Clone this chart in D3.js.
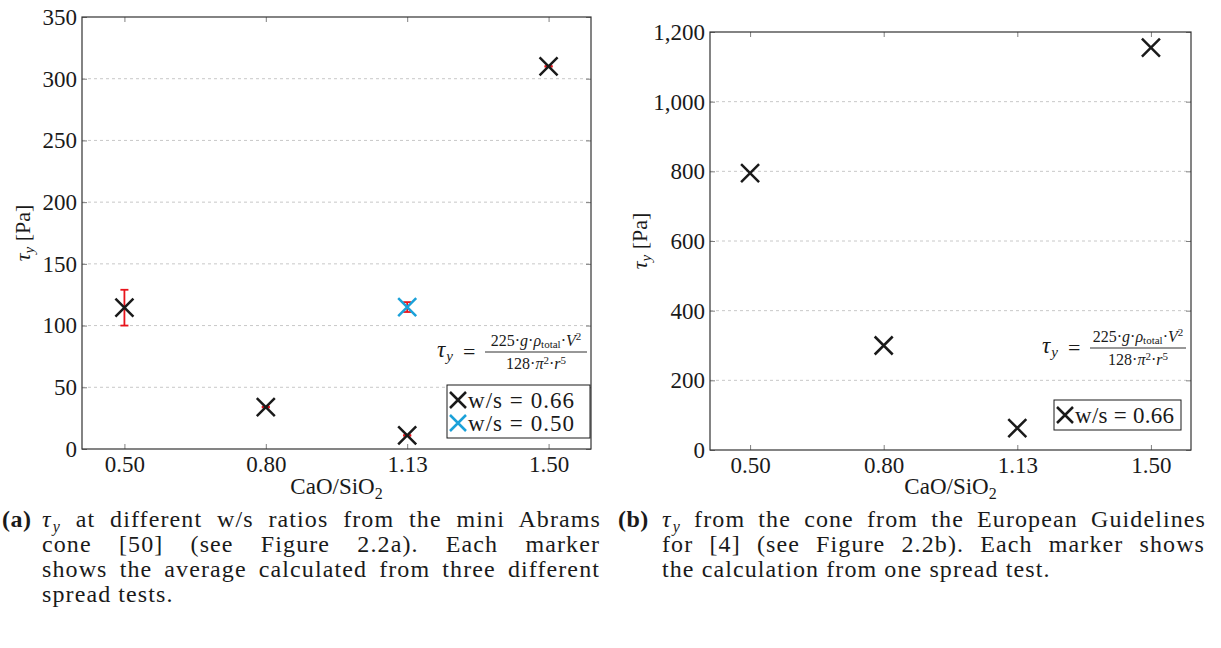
<!DOCTYPE html>
<html>
<head>
<meta charset="utf-8">
<script src="https://cdn.jsdelivr.net/npm/d3@7"></script>
<style>
  body { margin: 0; background: #fff; }
  svg { display: block; }
  text { font-family: "Liberation Serif", "Times New Roman", serif; fill: #1a1a1a; }
  .cap { font-size: 24px; letter-spacing: 1.1px; }
</style>
</head>
<body>
<svg id="fig" width="1221" height="648"></svg>
<script>
// categories on the x axis (CaO/SiO2)
const categories = ["0.50", "0.80", "1.13", "1.50"];

// (a) mini Abrams cone, tau_y in Pa
const tauA066 = [114.5, 34, 11, 310];
const errA066 = [14.5, 0.3, 0.3, 0.3];
const tauA050 = [null, null, 115, null];
const errA050 = [null, null, 4, null];
const yTicksA = [0, 50, 100, 150, 200, 250, 300, 350];

// (b) European Guidelines cone, tau_y in Pa
const tauB066 = [795, 300, 63, 1155];
const yTicksB = [0, 200, 400, 600, 800, 1000, 1200];

const legendLabels = ["w/s = 0.66", "w/s = 0.50"];

const black = "#1a1a1a", cyan = "#1ba1d9", red = "#e8141c";

const svg = d3.select("#fig");

const panels = [
  {
    box: {left: 82, right: 591, top: 17, bottom: 449},
    yTicks: yTicksA, fmt: d3.format("d"),
    series: [
      {values: tauA066, errors: errA066, color: black, label: legendLabels[0]},
      {values: tauA050, errors: errA050, color: cyan, label: legendLabels[1]}
    ],
    legend: {x: 447, y: 385, w: 143, textW: 106},
    formula: {x: 437, line: 352, x0: 485, x1: 587},
    yLabelX: 23
  },
  {
    box: {left: 710, right: 1191, top: 32, bottom: 450},
    yTicks: yTicksB, fmt: d3.format(","),
    series: [
      {values: tauB066, errors: null, color: black, label: legendLabels[0]}
    ],
    legend: {x: 1054, y: 400, w: 127, textW: 99},
    formula: {x: 1042, line: 348, x0: 1090, x1: 1186},
    yLabelX: 640
  }
];

const cross = s => `M${-s},${-s}L${s},${s}M${-s},${s}L${s},${-s}`;

panels.forEach(p => {
  const b = p.box;
  const x = d3.scalePoint().domain(categories).range([b.left, b.right]).padding(0.3);
  const y = d3.scaleLinear().domain([0, d3.max(p.yTicks)]).range([b.bottom, b.top]);
  const g = svg.append("g");

  // dashed grid
  g.append("g").selectAll("line")
    .data(p.yTicks.slice(1, -1))
    .join("line")
    .attr("x1", b.left).attr("x2", b.right)
    .attr("y1", d => y(d)).attr("y2", d => y(d))
    .attr("stroke", "#c8c8c8").attr("stroke-dasharray", "3,3");

  // axes with inward ticks
  const axL = g.append("g").attr("transform", `translate(${b.left},0)`)
    .call(d3.axisLeft(y).tickValues(p.yTicks).tickFormat(p.fmt).tickSize(-5).tickPadding(5));
  const axR = g.append("g").attr("transform", `translate(${b.right},0)`)
    .call(d3.axisRight(y).tickValues(p.yTicks).tickFormat("").tickSize(-5));
  const axB = g.append("g").attr("transform", `translate(0,${b.bottom})`)
    .call(d3.axisBottom(x).tickSize(-5).tickPadding(7));
  const axT = g.append("g").attr("transform", `translate(0,${b.top})`)
    .call(d3.axisTop(x).tickFormat("").tickSize(-5));
  [axL, axR, axB, axT].forEach(a => {
    a.select(".domain").remove();
    a.selectAll(".tick line").attr("stroke", "#808080");
    a.selectAll("text").style("font-size", "23px").attr("fill", black)
      .style("font-family", "'Liberation Serif', serif");
  });

  // frame
  g.append("rect")
    .attr("x", b.left).attr("y", b.top)
    .attr("width", b.right - b.left).attr("height", b.bottom - b.top)
    .attr("fill", "none").attr("stroke", "#333").attr("stroke-width", 1.2);

  // error bars, then markers on top
  p.series.forEach(s => {
    const pts = categories.map((c, i) => ({c, v: s.values[i], e: s.errors ? s.errors[i] : null}))
      .filter(d => d.v != null);
    const eb = g.append("g").attr("stroke", red).attr("stroke-width", 1.8);
    pts.filter(d => d.e != null).forEach(d => {
      const cx = x(d.c);
      const y0 = y(d.v - d.e), y1 = y(d.v + d.e);
      eb.append("line").attr("x1", cx).attr("x2", cx).attr("y1", y0).attr("y2", y1);
      eb.append("line").attr("x1", cx - 4).attr("x2", cx + 4).attr("y1", y0).attr("y2", y0);
      eb.append("line").attr("x1", cx - 4).attr("x2", cx + 4).attr("y1", y1).attr("y2", y1);
    });
    g.append("g").selectAll("path")
      .data(pts)
      .join("path")
      .attr("transform", d => `translate(${x(d.c)},${y(d.v)})`)
      .attr("d", cross(9))
      .attr("stroke", s.color).attr("stroke-width", 2.5).attr("fill", "none");
  });

  // legend
  const L = p.legend;
  const rows = p.series.length;
  g.append("rect")
    .attr("x", L.x).attr("y", L.y).attr("width", L.w).attr("height", rows * 23 + 7)
    .attr("fill", "#fff").attr("stroke", black).attr("stroke-width", 1);
  p.series.forEach((s, i) => {
    const cy = L.y + 15 + i * 23;
    g.append("path").attr("transform", `translate(${L.x + 11},${cy})`)
      .attr("d", cross(8)).attr("stroke", s.color).attr("stroke-width", 2.5);
    g.append("text").attr("x", L.x + 21).attr("y", cy + 8)
      .attr("textLength", L.textW).attr("lengthAdjust", "spacing")
      .style("font-size", "23px").text(s.label);
  });

  // formula
  const f = p.formula;
  const tau = g.append("text").attr("x", f.x).attr("y", f.line + 5).style("font-size", "23px");
  tau.append("tspan").style("font-style", "italic").text("τ");
  tau.append("tspan").style("font-style", "italic").style("font-size", "15px")
    .attr("dx", 1).attr("dy", 4).text("y");
  g.append("text").attr("x", f.x + 26).attr("y", f.line + 7).style("font-size", "22px").text("=");
  g.append("line").attr("x1", f.x0).attr("x2", f.x1).attr("y1", f.line).attr("y2", f.line)
    .attr("stroke", black).attr("stroke-width", 0.9);
  const mid = (f.x0 + f.x1) / 2;
  const num = g.append("text").attr("x", mid).attr("y", f.line - 6)
    .attr("text-anchor", "middle").style("font-size", "16px");
  num.append("tspan").text("225·");
  num.append("tspan").style("font-style", "italic").text("g");
  num.append("tspan").text("·");
  num.append("tspan").style("font-style", "italic").text("ρ");
  num.append("tspan").style("font-size", "11px").attr("dy", 2).text("total");
  num.append("tspan").attr("dy", -2).text("·");
  num.append("tspan").style("font-style", "italic").text("V");
  num.append("tspan").style("font-size", "11px").attr("dy", -6).text("2");
  const den = g.append("text").attr("x", mid).attr("y", f.line + 17)
    .attr("text-anchor", "middle").style("font-size", "16px");
  den.append("tspan").text("128·");
  den.append("tspan").style("font-style", "italic").text("π");
  den.append("tspan").style("font-size", "11px").attr("dy", -5).text("2");
  den.append("tspan").attr("dy", 5).text("·");
  den.append("tspan").style("font-style", "italic").text("r");
  den.append("tspan").style("font-size", "11px").attr("dy", -5).text("5");

  // axis labels
  const yl = g.append("text")
    .attr("transform", `translate(${p.yLabelX},${(b.top + b.bottom) / 2}) rotate(-90)`)
    .attr("y", 7).attr("text-anchor", "middle").style("font-size", "22px");
  yl.append("tspan").style("font-style", "italic").text("τ");
  yl.append("tspan").style("font-style", "italic").style("font-size", "15px").attr("dy", 4).text("y");
  yl.append("tspan").attr("dy", -4).text(" [Pa]");

  const xl = g.append("text").attr("x", (b.left + b.right) / 2).attr("y", 494)
    .attr("text-anchor", "middle").style("font-size", "23px");
  xl.append("tspan").text("CaO/SiO");
  xl.append("tspan").style("font-size", "16px").attr("dy", 5).text("2");
});

// captions
function captionLine(x, y, width, parts) {
  const t = svg.append("text").attr("class", "cap").attr("x", x).attr("y", y);
  parts.forEach(q => {
    const s = t.append("tspan").text(q.t);
    if (q.i) s.style("font-style", "italic");
    if (q.sub) s.style("font-size", "16px").attr("dx", 1).attr("dy", 5);
    if (q.up) s.attr("dy", -5);
  });
  if (width) {
    const nat = t.node().getComputedTextLength();
    const spaces = (t.text().match(/ /g) || []).length;
    t.style("word-spacing", ((width - nat) / spaces) + "px");
  }
}
function captionTag(x, y, s) {
  svg.append("text").attr("x", x).attr("y", y).attr("class", "cap")
    .style("font-weight", "bold").style("letter-spacing", "0.5px").text(s);
}
const capY = [527, 552, 577, 602];

captionTag(2, capY[0], "(a)");
captionLine(42, capY[0], 558, [{t: "τ", i: true}, {t: "y", i: true, sub: true},
  {t: " at different w/s ratios from the mini Abrams", up: true}]);
captionLine(42, capY[1], 558, [{t: "cone [50] (see Figure 2.2a). Each marker"}]);
captionLine(42, capY[2], 558, [{t: "shows the average calculated from three different"}]);
captionLine(42, capY[3], null, [{t: "spread tests."}]);

captionTag(618, capY[0], "(b)");
captionLine(662, capY[0], 543, [{t: "τ", i: true}, {t: "y", i: true, sub: true},
  {t: " from the cone from the European Guidelines", up: true}]);
captionLine(662, capY[1], 543, [{t: "for [4] (see Figure 2.2b). Each marker shows"}]);
captionLine(662, capY[2], null, [{t: "the calculation from one spread test."}]);
</script>
</body>
</html>
